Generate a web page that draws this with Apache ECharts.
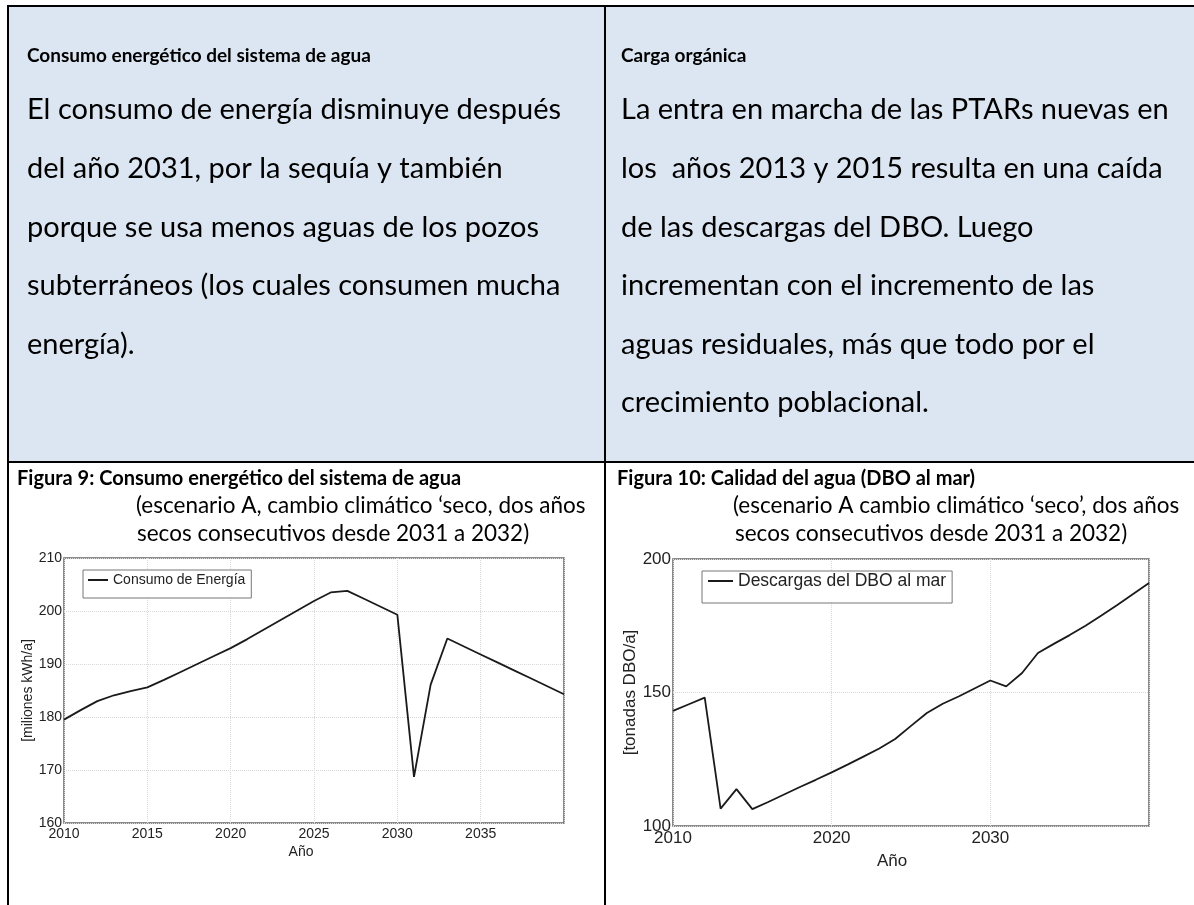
<!DOCTYPE html>
<html>
<head>
<meta charset="utf-8">
<script src="https://cdn.jsdelivr.net/npm/echarts@6/dist/echarts.min.js"></script>
<style>
  html, body { margin: 0; padding: 0; background: #fff; }
  #page { width: 1194px; height: 905px; }
</style>
</head>
<body>
<div id="page"></div>
<script>
// años de simulación
var years = [2010, 2011, 2012, 2013, 2014, 2015, 2016, 2017, 2018, 2019, 2020,
  2021, 2022, 2023, 2024, 2025, 2026, 2027, 2028, 2029, 2030,
  2031, 2032, 2033, 2034, 2035, 2036, 2037, 2038, 2039, 2040];

// Figura 9: consumo de energía [miliones kWh/a]
var energia = [179.5, 181.3, 183.0, 184.1, 184.9, 185.6, 187.0, 188.5, 190.0, 191.5, 193.0,
  194.7, 196.5, 198.3, 200.1, 201.9, 203.5, 203.8, 202.3, 200.8, 199.3,
  168.7, 186.1, 194.8, 193.3, 191.8, 190.3, 188.8, 187.3, 185.8, 184.3];

// Figura 10: descargas del DBO al mar [tonadas DBO/a]
var dbo = [143.1, 145.6, 148.1, 106.5, 113.8, 106.3, 109.0, 111.8, 114.6, 117.3, 120.1,
  123.0, 126.0, 129.0, 132.6, 137.5, 142.3, 145.8, 148.5, 151.5, 154.5,
  152.3, 157.3, 164.8, 168.2, 171.5, 175.0, 178.8, 182.8, 186.9, 191.0];

var ticks1 = { min: 2010, max: 2040, step: 5, ymin: 160, ymax: 210, ystep: 10 };
var ticks2 = { min: 2010, max: 2040, step: 10, ymin: 100, ymax: 200, ystep: 50 };

// textos de la tabla
var izqTitulo = "Consumo energético del sistema de agua";
var izqTexto = [
  "El consumo de energía disminuye después",
  "del año 2031, por la sequía y también",
  "porque se usa menos aguas de los pozos",
  "subterráneos (los cuales consumen mucha",
  "energía)."
];
var derTitulo = "Carga orgánica";
var derTexto = [
  "La entra en marcha de las PTARs nuevas en",
  "los  años 2013 y 2015 resulta en una caída",
  "de las descargas del DBO. Luego",
  "incrementan con el incremento de las",
  "aguas residuales, más que todo por el",
  "crecimiento poblacional."
];
var fig9 = ["Figura 9: Consumo energético del sistema de agua",
  "(escenario A, cambio climático \u2018seco, dos años",
  "secos consecutivos desde 2031 a 2032)"];
var fig10 = ["Figura 10: Calidad del agua (DBO al mar)",
  "(escenario A cambio climático \u2018seco\u2019, dos años",
  "secos consecutivos desde 2031 a 2032)"];

var myChart = echarts.init(document.getElementById("page"), null, { renderer: "canvas" });

var docFont = "Lato, 'Open Sans', sans-serif";
var plotFont = "'Liberation Sans', Arial, sans-serif";

function txt(s, x, y, size, bold) {
  return {
    type: "text",
    silent: true,
    style: {
      text: s, x: x, y: y,
      fill: "#000",
      font: (bold ? "bold " : "") + size + "px " + docFont,
      verticalAlign: "middle"
    }
  };
}

var graphics = [
  // fondo azul de la fila de arriba
  { type: "rect", z: -10, silent: true, shape: { x: 8, y: 6, width: 1186, height: 456 }, style: { fill: "#dce6f2" } },
  // bordes
  { type: "line", silent: true, shape: { x1: 7, y1: 6, x2: 1194, y2: 6 }, style: { stroke: "#000", lineWidth: 2 } },
  { type: "line", silent: true, shape: { x1: 8, y1: 5, x2: 8, y2: 905 }, style: { stroke: "#000", lineWidth: 2 } },
  { type: "line", silent: true, shape: { x1: 605, y1: 5, x2: 605, y2: 905 }, style: { stroke: "#000", lineWidth: 2 } },
  { type: "line", silent: true, shape: { x1: 7, y1: 462, x2: 1194, y2: 462 }, style: { stroke: "#000", lineWidth: 2 } }
];

graphics.push(txt(izqTitulo, 27, 56, 19, true));
izqTexto.forEach(function (s, i) { graphics.push(txt(s, 27, 110 + 58.6 * i, 29, false)); });
graphics.push(txt(derTitulo, 621, 56, 19, true));
derTexto.forEach(function (s, i) { graphics.push(txt(s, 621, 110 + 58.6 * i, 29, false)); });

graphics.push(txt(fig9[0], 17, 479, 20, true));
graphics.push(txt(fig9[1], 136, 506, 22.5, false));
graphics.push(txt(fig9[2], 137, 534, 22.5, false));
graphics.push(txt(fig10[0], 617, 479, 20, true));
graphics.push(txt(fig10[1], 733, 506, 22.5, false));
graphics.push(txt(fig10[2], 735, 534, 22.5, false));

function yearLabel(v) { return String(v); }

var splitSty = { show: true, lineStyle: { color: "#d8d8d8", type: "dotted", width: 1 } };

var option = {
  animation: false,
  backgroundColor: "#fff",
  graphic: graphics,
  legend: [
    {
      data: ["Consumo de Energía"],
      left: 83, top: 570,
      padding: [3, 6, 11, 5],
      backgroundColor: "#fff",
      borderColor: "#777",
      borderWidth: 1,
      borderRadius: 0,
      icon: "rect",
      itemWidth: 20, itemHeight: 2, itemGap: 6,
      textStyle: { fontSize: 14, color: "#222", fontFamily: plotFont }
    },
    {
      data: ["Descargas del DBO al mar"],
      left: 702, top: 571,
      padding: [1, 6, 13, 6],
      backgroundColor: "#fff",
      borderColor: "#777",
      borderWidth: 1,
      borderRadius: 0,
      icon: "rect",
      itemWidth: 25, itemHeight: 2, itemGap: 9,
      textStyle: { fontSize: 17.5, color: "#222", fontFamily: plotFont }
    }
  ],
  grid: [
    { left: 64, top: 558, width: 500, height: 265, show: true, borderColor: "#666", borderWidth: 1.5, backgroundColor: "#fff" },
    { left: 673, top: 559, width: 476, height: 267, show: true, borderColor: "#666", borderWidth: 1.5, backgroundColor: "#fff" }
  ],
  xAxis: [
    {
      gridIndex: 0, type: "value",
      min: ticks1.min, max: ticks1.max, interval: ticks1.step,
      axisLine: { show: false }, axisTick: { show: false },
      splitLine: splitSty,
      axisLabel: { color: "#222", fontSize: 14, fontFamily: plotFont, margin: 4, showMaxLabel: false, formatter: yearLabel },
      name: "Año", nameLocation: "middle", nameGap: 22,
      nameTextStyle: { color: "#222", fontSize: 14, fontFamily: plotFont, padding: [0, 26, 0, 0] }
    },
    {
      gridIndex: 1, type: "value",
      min: ticks2.min, max: ticks2.max, interval: ticks2.step,
      axisLine: { show: false }, axisTick: { show: false },
      splitLine: splitSty,
      axisLabel: { color: "#222", fontSize: 17, fontFamily: plotFont, margin: 4, showMaxLabel: false, formatter: yearLabel },
      name: "Año", nameLocation: "middle", nameGap: 27,
      nameTextStyle: { color: "#222", fontSize: 17, fontFamily: plotFont, padding: [0, 38, 0, 0] }
    }
  ],
  yAxis: [
    {
      gridIndex: 0, type: "value",
      min: ticks1.ymin, max: ticks1.ymax, interval: ticks1.ystep,
      axisLine: { show: false }, axisTick: { show: false },
      splitLine: splitSty,
      axisLabel: { color: "#222", fontSize: 14, fontFamily: plotFont, margin: 2 },
      name: "[miliones kWh/a]", nameLocation: "middle", nameGap: 15,
      nameTextStyle: { color: "#222", fontSize: 14, fontFamily: plotFont }
    },
    {
      gridIndex: 1, type: "value",
      min: ticks2.ymin, max: ticks2.ymax, interval: ticks2.ystep,
      axisLine: { show: false }, axisTick: { show: false },
      splitLine: splitSty,
      axisLabel: { color: "#222", fontSize: 17, fontFamily: plotFont, margin: 2 },
      name: "[tonadas DBO/a]", nameLocation: "middle", nameGap: 28,
      nameTextStyle: { color: "#222", fontSize: 17, fontFamily: plotFont }
    }
  ],
  series: [
    {
      name: "Consumo de Energía", type: "line",
      xAxisIndex: 0, yAxisIndex: 0,
      symbol: "none",
      data: years.map(function (y, i) { return [y, energia[i]]; }),
      itemStyle: { color: "#1a1a1a" },
      lineStyle: { color: "#1a1a1a", width: 1.8 }
    },
    {
      name: "Descargas del DBO al mar", type: "line",
      xAxisIndex: 1, yAxisIndex: 1,
      symbol: "none",
      data: years.map(function (y, i) { return [y, dbo[i]]; }),
      itemStyle: { color: "#1a1a1a" },
      lineStyle: { color: "#1a1a1a", width: 1.8 }
    }
  ]
};

myChart.setOption(option);
window.addEventListener("resize", function () {
  myChart.resize();
});
</script>
</body>
</html>
